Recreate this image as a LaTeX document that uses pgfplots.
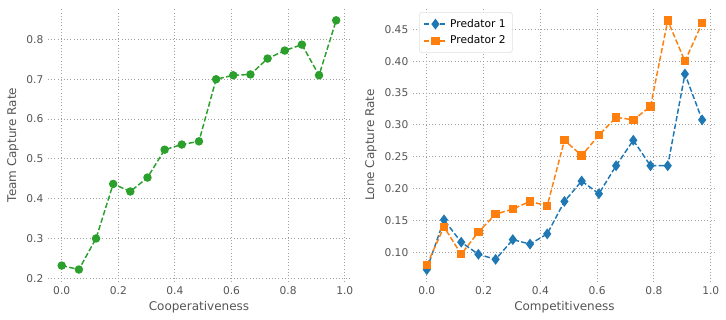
\documentclass[border=0pt]{standalone}
\usepackage{fontspec}
\setmainfont{DejaVu Sans}
\usepackage{pgfplots}
\pgfplotsset{compat=1.18}
\definecolor{tgreen}{HTML}{2CA02C}
\definecolor{tblue}{HTML}{1F77B4}
\definecolor{torange}{HTML}{FF7F0E}
\definecolor{txt}{HTML}{555555}
\definecolor{gridc}{HTML}{A0A0A0}

% 1 px of the reference = 0.75pt
\pgfplotsset{
  snsax/.style={
    anchor=south west,
    scale only axis,
    axis line style={draw=none},
    major tick length=0pt,
    grid=major,
    grid style={dotted,gridc,line width=0.7pt},
    tick label style={font=\fontsize{8}{9.5}\selectfont,text=txt},
    label style={font=\fontsize{9}{11}\selectfont,text=txt},
    /pgf/number format/assume math mode=true,
    xmin=-0.0485,xmax=1.0185,
    xtick={0,0.2,0.4,0.6,0.8,1.0},
    xticklabel style={/pgf/number format/.cd,fixed,fixed zerofill,precision=1},
    xlabel style={yshift=2pt},
    ylabel style={yshift=-1pt},
    every axis plot/.append style={dashed,dash pattern=on 4pt off 1.8pt,line width=1.1pt},
  }
}

\begin{document}
\begin{tikzpicture}
\path[use as bounding box] (0pt,0pt) rectangle (544.5pt,240pt);

\begin{axis}[snsax,
  at={(36pt,28.5pt)}, width=226.5pt, height=205.5pt,
  ymin=0.1907, ymax=0.879,
  ytick={0.2,0.3,0.4,0.5,0.6,0.7,0.8},
  yticklabel style={/pgf/number format/.cd,fixed,fixed zerofill,precision=1},
  xlabel={Cooperativeness},
  ylabel={Team Capture Rate},
]
\addplot[tgreen,mark=*,mark options={solid,fill=tgreen,draw=tgreen},mark size=2.6pt] coordinates {
(0.0000,0.232) (0.0606,0.222) (0.1212,0.300) (0.1818,0.437) (0.2424,0.418)
(0.3030,0.453) (0.3636,0.523) (0.4242,0.536) (0.4848,0.544) (0.5455,0.700)
(0.6061,0.710) (0.6667,0.712) (0.7273,0.752) (0.7879,0.772) (0.8485,0.787)
(0.9091,0.710) (0.9697,0.848)
};
\end{axis}

\begin{axis}[snsax,
  at={(309.75pt,28.5pt)}, width=227.25pt, height=205.5pt,
  ymin=0.0535, ymax=0.4836,
  ytick={0.10,0.15,0.20,0.25,0.30,0.35,0.40,0.45},
  yticklabel style={/pgf/number format/.cd,fixed,fixed zerofill,precision=2},
  xlabel={Competitiveness},
  ylabel={Lone Capture Rate},
  legend style={at={(0.02,0.985)},anchor=north west,draw=gray!25,rounded corners=2pt,
    fill=white,font=\fontsize{8}{9.5}\selectfont,text=black,row sep=1pt,inner sep=3pt},
  legend cell align=left,
]
\addplot[tblue,mark=diamond*,mark options={solid,fill=tblue,draw=tblue},mark size=3.2pt] coordinates {
(0.0000,0.073) (0.0606,0.151) (0.1212,0.116) (0.1818,0.097) (0.2424,0.089)
(0.3030,0.120) (0.3636,0.113) (0.4242,0.129) (0.4848,0.180) (0.5455,0.212)
(0.6061,0.192) (0.6667,0.236) (0.7273,0.276) (0.7879,0.236) (0.8485,0.236)
(0.9091,0.380) (0.9697,0.308)
};
\addlegendentry{Predator 1}
\addplot[torange,mark=square*,mark options={solid,fill=torange,draw=torange},mark size=2.6pt] coordinates {
(0.0000,0.080) (0.0606,0.140) (0.1212,0.097) (0.1818,0.132) (0.2424,0.160)
(0.3030,0.168) (0.3636,0.180) (0.4242,0.173) (0.4848,0.276) (0.5455,0.252)
(0.6061,0.284) (0.6667,0.312) (0.7273,0.308) (0.7879,0.329) (0.8485,0.464)
(0.9091,0.400) (0.9697,0.460)
};
\addlegendentry{Predator 2}
\end{axis}
\end{tikzpicture}
\end{document}
